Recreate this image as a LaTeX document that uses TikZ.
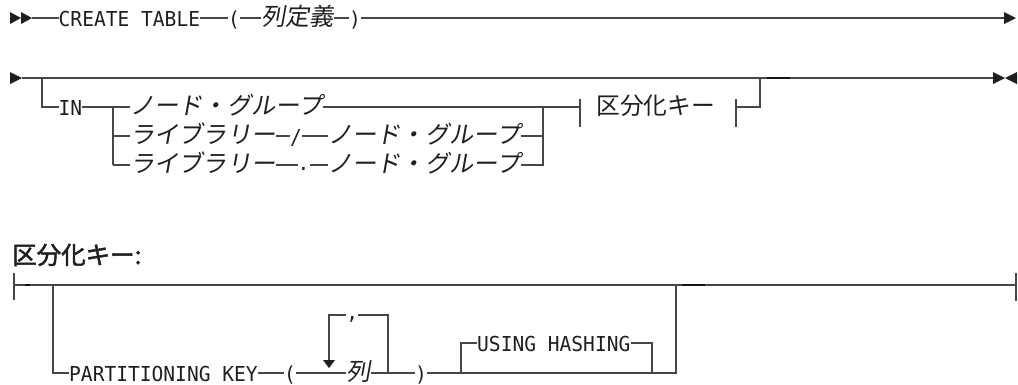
\documentclass[tikz,border=0pt]{standalone}
\usepackage{fontspec}
\setmonofont{DejaVu Sans Mono}[FakeStretch=0.95]
\newfontfamily\jpfam{Noto Sans CJK JP}
\newfontfamily\jpslant{Noto Sans CJK JP}[FakeSlant=0.18]
\newfontfamily\jpbold{Noto Sans CJK JP}[FakeBold=2]
\newcommand\kwfont{\ttfamily\fontsize{20.6}{22}\selectfont}
\newcommand\varfont{\jpslant\fontsize{24.2}{26}\selectfont}
\newcommand\jpnfont{\jpfam\fontsize{23.8}{26}\selectfont}
\newcommand\headfont{\jpbold\fontsize{24.5}{26}\selectfont}
\begin{document}
\begin{tikzpicture}[x=1pt,y=-1pt,
  ln/.style={line width=1.3pt, draw=black!72},
  dk/.style={line width=2pt, draw=black!92},
  kw/.style={font=\kwfont, inner sep=0pt, anchor=base west, text=black!88},
  var/.style={font=\varfont, inner sep=0pt, anchor=base west, text=black!88},
  jpn/.style={font=\jpnfont, inner sep=0pt, anchor=base west, text=black!88},
  head/.style={font=\headfont, inner sep=0pt, anchor=base west, text=black!88},
  tri/.style={fill=black!88}]
\useasboundingbox (0,0) rectangle (1018,384);

% ---------- Row 1 ----------
\coordinate (s1) at (32,18);
\coordinate (e1) at (1004,18);
\fill[tri] (10,12) -- (21,18) -- (10,24) -- cycle;
\fill[tri] (21,12) -- (32,18) -- (21,24) -- cycle;
\fill[tri] (1004,12) -- (1016,18) -- (1004,24) -- cycle;
\node[kw]  (ct)  at (58.5,26.5) {CREATE TABLE};
\node[kw]  (lp1) at (228,26.5) {(};
\node[var] (cd)  at (261,25.5) {列定義};
\node[kw]  (rp1) at (349,26.5) {)};
\draw[ln] (s1) -- (ct.west |- s1);
\draw[ln] (ct.east |- s1) -- (lp1.west |- s1);
\draw[ln] (lp1.east |- s1) -- (cd.west |- s1);
\draw[ln] (cd.east |- s1) -- (rp1.west |- s1);
\draw[ln] (rp1.east |- s1) -- (e1);

% ---------- Row 2 ----------
\coordinate (s2) at (22,78);
\coordinate (e2) at (993,78);
\fill[tri] (10,72) -- (22,78) -- (10,84) -- cycle;
\fill[tri] (993,72) -- (1005,78) -- (993,84) -- cycle;
\fill[tri] (1017,72) -- (1005,78) -- (1017,84) -- cycle;
\draw[ln] (s2) -- (e2);
\draw[dk] (767,78) -- (790,78);
\coordinate (b2a) at (42,78);
\coordinate (b2b) at (42,107);
\coordinate (j1) at (113,107);
\coordinate (j2) at (113,136);
\coordinate (j3) at (113,165);
\coordinate (k1) at (543,107);
\coordinate (k2) at (543,136);
\coordinate (k3) at (543,165);
\node[kw]  (in)   at (58.5,115) {IN};
\node[var] (ng1)  at (130,114.5) {ノード・グループ};
\node[var] (lib2) at (130,143.5) {ライブラリー};
\node[kw]  (sl)   at (290,144) {/};
\node[var] (ng2)  at (328,143.5) {ノード・グループ};
\node[var] (lib3) at (130,172.5) {ライブラリー};
\node[kw]  (dot)  at (297.5,170) {.};
\node[var] (ng3)  at (328,172.5) {ノード・グループ};
\coordinate (t1) at (580,107);
\coordinate (t2) at (736,107);
\coordinate (u2) at (760,107);
\coordinate (u1) at (760,78);
\node[jpn] (pk1) at (596,114.5) {区分化キー};
\draw[ln] (b2a) -- (b2b) -- (in.west |- b2b);
\draw[ln] (in.east |- j1) -- (j1) -- (j3);
\draw[ln] (j1) -- (ng1.west |- j1);
\draw[ln] (j2) -- (lib2.west |- j2);
\draw[ln] (lib2.east |- j2) -- (sl.west |- j2);
\draw[ln] (sl.east |- j2) -- (ng2.west |- j2);
\draw[ln] (j3) -- (lib3.west |- j3);
\draw[ln] (lib3.east |- j3) -- (dot.west |- j3);
\draw[ln] (dot.east |- j3) -- (ng3.west |- j3);
\draw[ln] (ng1.east |- k1) -- (t1);
\draw[ln] (ng2.east |- k2) -- (k2);
\draw[ln] (ng3.east |- k3) -- (k3) -- (k1);
\draw[ln] (580,99) -- (580,127);
\draw[ln] (736,99) -- (736,127);
\draw[ln] (t2) -- (u2) -- (u1);

% ---------- Heading ----------
\node[head] (hd) at (12,264) {区分化キー:};

% ---------- Row 3 ----------
\coordinate (s3) at (14,285);
\coordinate (e3) at (1016,285);
\draw[ln] (s3) -- (e3);
\draw[ln] (14,273) -- (14,300);
\draw[ln] (1016,273) -- (1016,301);
\draw[dk] (25,285) -- (30,285);
\draw[dk] (682,285) -- (705,285);
\coordinate (b3a) at (53,285);
\coordinate (b3b) at (53,373);
\node[kw]  (pk)  at (69,381) {PARTITIONING KEY};
\node[kw]  (lp2) at (284,381) {(};
\node[var] (col) at (346,380.5) {列};
\node[kw]  (rp2) at (415,381) {)};
\node[kw]  (cm)  at (346.2,319) {,};
\coordinate (lpR) at (388,373);
\coordinate (lpRt) at (388,315);
\coordinate (lpLt) at (329,315);
\coordinate (lpLb) at (329,360);
\coordinate (h1) at (461,373);
\coordinate (h2) at (461,343);
\coordinate (h3) at (652,343);
\coordinate (h4) at (652,373);
\coordinate (m1) at (676,373);
\coordinate (m2) at (676,285);
\node[kw]  (uh)  at (477,351) {USING HASHING};
\draw[ln] (b3a) -- (b3b) -- (pk.west |- b3b);
\draw[ln] (pk.east |- b3b) -- (lp2.west |- b3b);
\draw[ln] (lp2.east |- b3b) -- (col.west |- b3b);
\draw[ln] (col.east |- b3b) -- (rp2.west |- b3b);
\draw[ln] (lpR) -- (lpRt) -- (cm.east |- lpRt);
\draw[ln] (cm.west |- lpLt) -- (lpLt) -- (lpLb);
\fill[tri] (323,360) -- (335,360) -- (329,368) -- cycle;
\draw[ln] (rp2.east |- h1) -- (h1) -- (m1) -- (m2);
\draw[ln] (h1) -- (h2) -- (uh.west |- h2);
\draw[ln] (uh.east |- h3) -- (h3) -- (h4);
\end{tikzpicture}
\end{document}
